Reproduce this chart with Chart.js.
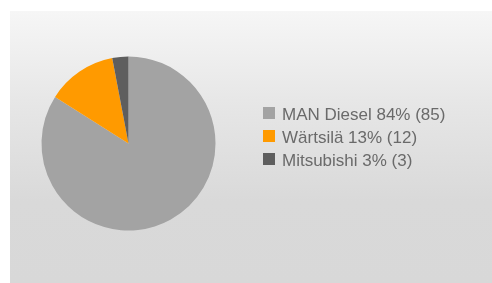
<!DOCTYPE html>
<html>
<head>
<meta charset="utf-8">
<script src="https://cdn.jsdelivr.net/npm/chart.js@4/dist/chart.umd.min.js"></script>
<style>
  html, body { margin:0; padding:0; background:#fff; }
  body { width:492px; height:283px; position:relative; overflow:hidden; }
  #panel { position:absolute; left:10px; top:11px; right:0; bottom:0;
           background:linear-gradient(#f6f6f6, #e6e6e6 35%, #d9d9d9 70%, #d8d8d8); }
  #wrap { position:absolute; left:0; top:0; width:492px; height:283px; }
</style>
</head>
<body>
<div id="panel"></div>
<div id="wrap"><canvas id="chartPie"></canvas></div>
<script>
// --- Date ---
const names = ['MAN Diesel', 'Wärtsilä', 'Mitsubishi'];
const percents = [84, 13, 3];
const counts = [85, 12, 3];
const colors = ['#a3a3a3', '#ff9a00', '#5e5e5e'];

// --- Legenda desenata manual ---
const legendPlugin = {
  id: 'legendaDreapta',
  afterDraw(chart){
    const ctx = chart.ctx;
    const bg = chart.data.datasets[0].backgroundColor;
    ctx.save();
    ctx.font = '17px "Liberation Sans", Arial, sans-serif';
    ctx.textBaseline = 'alphabetic';
    chart.data.labels.forEach((lbl, i) => {
      const y = 107 + i*23;
      ctx.fillStyle = bg[i];
      ctx.fillRect(263, y, 12, 12);
      ctx.fillStyle = '#6a6a6a';
      ctx.fillText(lbl, 282, y + 12.5);
    });
    ctx.restore();
  }
};

new Chart(document.getElementById('chartPie').getContext('2d'), {
  type: 'pie',
  data: {
    labels: names.map((n,i) => `${n} ${percents[i]}% (${counts[i]})`),
    datasets: [{
      data: percents,
      backgroundColor: colors,
      borderWidth: 0
    }]
  },
  options: {
    responsive: true,
    maintainAspectRatio: false,
    animation: false,
    layout: { padding: { left: 41.5, top: 56.5, right: 276.5, bottom: 52.5 } },
    plugins: { legend: { display: false }, tooltip: { enabled: false } }
  },
  plugins: [legendPlugin]
});
</script>
</body>
</html>
